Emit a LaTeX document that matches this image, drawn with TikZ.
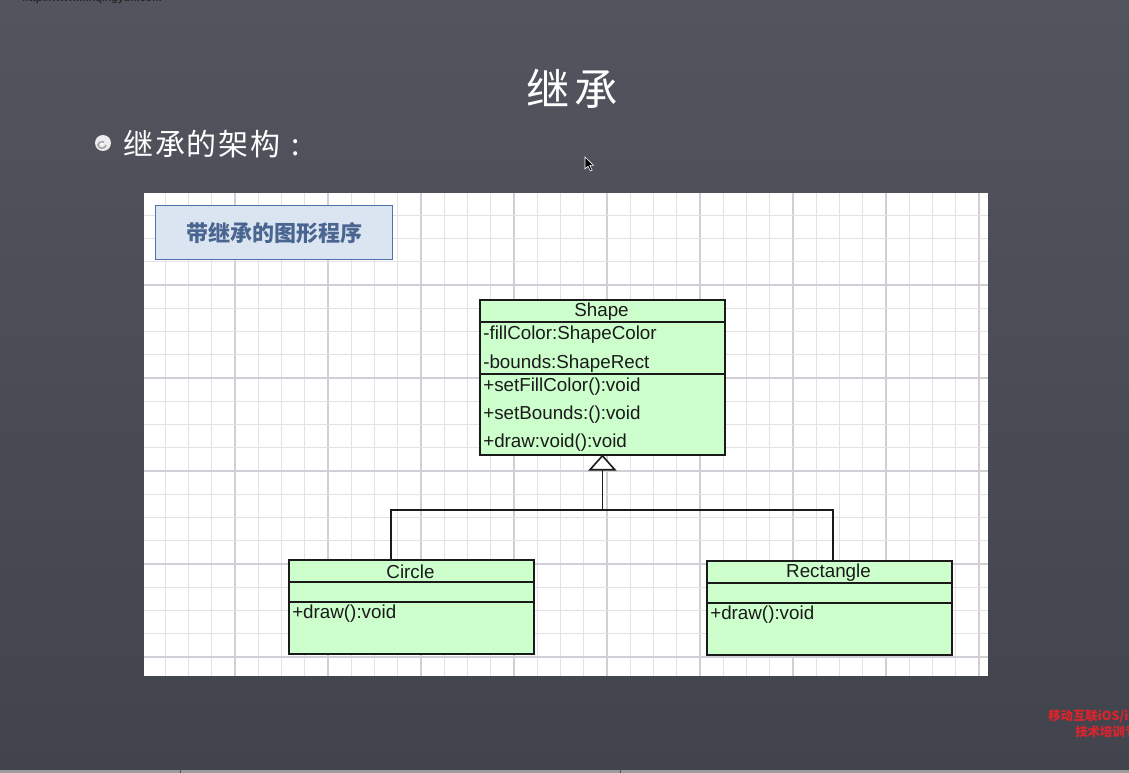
\documentclass[tikz,border=0pt]{standalone}
\usepackage{fontspec}
\setmainfont{Liberation Sans}
\newfontfamily\cjk{Noto Sans CJK SC}
\usetikzlibrary{calc}

% one unit of the drawing grid, used for node sizes
\newdimen\upx \upx=0.75pt

\definecolor{slatetop}{HTML}{52555E}
\definecolor{slatebot}{HTML}{42444D}
\definecolor{stripgray}{HTML}{9C9C9E}
\definecolor{gridminor}{HTML}{E4E0E6}
\definecolor{gridmajor}{HTML}{D2CED5}
\definecolor{umlfill}{HTML}{CCFFCC}
\definecolor{umlline}{HTML}{1A1A1A}
\definecolor{tagfill}{HTML}{DBE5F1}
\definecolor{tagline}{HTML}{4F72AA}
\definecolor{tagtext}{HTML}{4A6690}
\definecolor{promo}{HTML}{E0222A}

\tikzset{
  umlbox/.style={draw=umlline, fill=umlfill, line width=1.8\upx, inner sep=0,
                 anchor=north west, minimum width=245\upx},
  umlsep/.style={draw=umlline, line width=1.6\upx},
  umltxt/.style={inner sep=0, text=umlline, font=\fontsize{14.1}{16}\selectfont},
  umlmember/.style={umltxt, anchor=west},
  inherit/.style={draw=umlline, line width=1.6\upx},
  gridlinem/.style={draw=gridminor, line width=1\upx},
  gridlineM/.style={draw=gridmajor, line width=1.6\upx},
  promotxt/.style={anchor=west, inner sep=0, text=promo,
                   font=\cjk\bfseries\fontsize{9.3}{11}\selectfont},
}

\begin{document}
\begin{tikzpicture}[x=0.75pt, y=-0.75pt]
\useasboundingbox (0,0) rectangle (1129,773);
\begin{scope}
\clip (0,0) rectangle (1129,773);

% slide background
\shade[top color=slatetop, bottom color=slatebot] (0,0) rectangle (1129,773);
\fill[stripgray] (0,770) rectangle (1129,773);
\draw[black!70, line width=1\upx] (180,769) -- (180,773) (620,769) -- (620,773);

% site address along the top edge
\node[anchor=base west, inner sep=0, text=black!85,
      font=\bfseries\fontsize{8}{9}\selectfont] (url) at (22,2) {http://www.hinqingyun.com};

% slide heading and bullet
\node[text=white, inner sep=0, font=\cjk\fontsize{32.5}{38}\selectfont\addfontfeature{LetterSpace=10}]
  (title) at (572,89) {继承};
\fill[gray!15] (103,143) circle (8);
\draw[gray!70, line width=1.6\upx] (106,145) arc (0:300:4 and 3.2);
\fill[white] (102,144) circle (1.6);
\node[anchor=west, text=white, inner sep=0,
      font=\cjk\fontsize{22.5}{26}\selectfont\addfontfeature{LetterSpace=6}]
  (sub) at (123,144) {继承的架构\hspace{8pt}:};

% mouse pointer
\filldraw[fill=black, draw=white, line width=0.6\upx]
  (585,157) -- (585,169) -- (588,166.2) -- (590.4,171) -- (592.2,170.2)
  -- (589.8,165.4) -- (593.6,165.4) -- cycle;

% drawing sheet with its grid
\node[fill=white, inner sep=0, anchor=north west, minimum width=844\upx,
      minimum height=483\upx] (sheet) at (144,193) {};
\begin{scope}
  \clip (144,193) rectangle (988,676);
  \foreach \i in {1,...,36} {
    \pgfmathtruncatemacro{\m}{mod(\i,4)}
    \ifnum\m=0 \draw[gridlineM] ({142+23.25*\i},193) -- ++(0,483);
    \else \draw[gridlinem] ({142+23.25*\i},193) -- ++(0,483); \fi
  }
  \foreach \j in {1,...,20} {
    \pgfmathtruncatemacro{\m}{mod(\j,4)}
    \ifnum\m=0 \draw[gridlineM] (144,{192+23.25*\j}) -- ++(844,0);
    \else \draw[gridlinem] (144,{192+23.25*\j}) -- ++(844,0); \fi
  }
\end{scope}

% caption tag
\node[draw=tagline, fill=tagfill, line width=1.4\upx, inner sep=0, anchor=north west,
      minimum width=237\upx, minimum height=54\upx, text=tagtext,
      font=\cjk\bfseries\fontsize{16.5}{20}\selectfont] (tag) at (155,205) {带继承的图形程序};

% class Shape
\node[umlbox, minimum height=155\upx] (shape) at (479,299) {};
\draw[umlsep] (479,322) -- (724,322) (479,374) -- (724,374);
\node[umltxt] (shapename) at (601.5,311.5) {Shape};
\node[umlmember] (a1) at (483,335) {-fillColor:ShapeColor};
\node[umlmember] (a2) at (483,363.5) {-bounds:ShapeRect};
\node[umlmember] (m1) at (483,387) {+setFillColor():void};
\node[umlmember] (m2) at (483,415) {+setBounds:():void};
\node[umlmember] (m3) at (483,443) {+draw:void():void};

% class Circle
\node[umlbox, minimum height=94\upx] (circle) at (288,559) {};
\draw[umlsep] (288,582) -- (533,582) (288,602) -- (533,602);
\node[umltxt] (circlename) at (410.5,571.5) {Circle};
\node[umlmember] (cm1) at (292,614) {+draw():void};

% class Rectangle
\node[umlbox, minimum height=94\upx] (rect) at (706,560) {};
\draw[umlsep] (706,583) -- (951,583) (706,603) -- (951,603);
\node[umltxt] (rectname) at (828.5,572.5) {Rectangle};
\node[umlmember] (rm1) at (710,615) {+draw():void};

% generalisation: hollow triangle on Shape, tree to both subclasses
\coordinate (tribase) at ($(shape.south)+(0,14)$);
\coordinate (hub) at ($(tribase)+(0,40)$);
\coordinate (cin) at ($(circle.north west)+(103,0)$);
\coordinate (rin) at ($(rect.north west)+(127,0)$);
\draw[inherit] (tribase) -- (hub);
\draw[inherit] (cin) |- (hub) -| (rin);
\filldraw[inherit, fill=white] (shape.south) -- ($(tribase)+(-12.5,0)$) -- ($(tribase)+(12.5,0)$) -- cycle;

% promotional note in the corner
\node[promotxt] (promo1) at (1048,716) {移动互联iOS/i};
\node[promotxt] (promo2) at (1075,732) {技术培训专};
\end{scope}
\end{tikzpicture}
\end{document}
